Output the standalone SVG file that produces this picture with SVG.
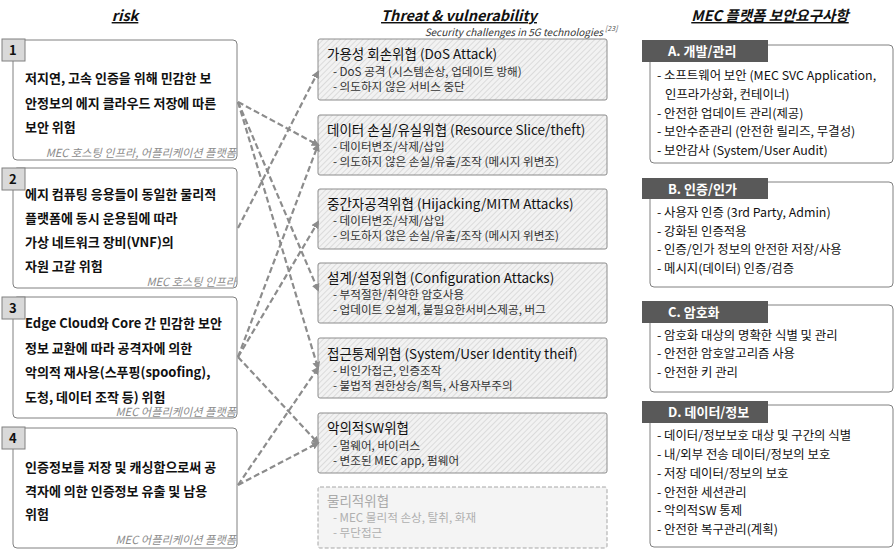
<svg xmlns="http://www.w3.org/2000/svg" width="895" height="553" viewBox="0 0 895 553">
<style>
text{font-family:"Noto Sans CJK KR","Noto Sans",sans-serif}
.hdr{font-size:14.5px;font-weight:bold;font-style:italic;text-decoration:underline;fill:#111}
.sub{font-size:10px;font-style:italic;fill:#333}
.rbox{fill:#fff;stroke:#808080;stroke-width:1}
.num{fill:#d9d9d9;stroke:#808080;stroke-width:1}
.numt{font-size:13px;font-weight:bold;fill:#111}
.rt{font-size:13px;font-weight:bold;fill:#111}
.cap{font-size:11.2px;font-style:italic;fill:#8c8c8c;text-anchor:end}
.tbox{fill:url(#hatch);stroke:#8c8c8c;stroke-width:1}
.tbox2{fill:#f4f4f4;stroke:#a6a6a6;stroke-width:1;stroke-dasharray:4 2}
.tt{font-size:13.5px;fill:#111}
.ti{font-size:11.6px;fill:#333}
.tt2{font-size:13.5px;fill:#aaa}
.ti2{font-size:11.6px;fill:#b0b0b0}
.qbox{fill:#fff;stroke:#808080;stroke-width:1}
.tab{fill:#595959}
.tabt{font-size:13px;font-weight:bold;fill:#fff}
.qi{font-size:12.4px;fill:#111}
.con{fill:none;stroke:#8c8c8c;stroke-width:2.2;stroke-dasharray:6 3;marker-end:url(#ah)}
</style>
<defs>
<pattern id="hatch" width="4" height="4" patternUnits="userSpaceOnUse" patternTransform="rotate(45)">
<rect width="4" height="4" fill="#f2f2f2"/>
<line x1="0" y1="0" x2="0" y2="4" stroke="#c4c4c4" stroke-width="1"/>
</pattern>
<marker id="ah" markerWidth="8" markerHeight="8" refX="6" refY="4" orient="auto" markerUnits="userSpaceOnUse">
<path d="M0,0 L8,4 L0,8 z" fill="#8c8c8c"/>
</marker>
</defs>

<g id="headers">
<text class="hdr" x="125" y="21" text-anchor="middle">risk</text>
<text class="hdr" x="459" y="21" text-anchor="middle">Threat &amp; vulnerability</text>
<text class="sub" x="603" y="36" text-anchor="end">Security challenges in 5G technologies</text>
<text x="605" y="31" style="font-size:7px;font-style:italic;fill:#555">[23]</text>
<text class="hdr" x="770" y="21" text-anchor="middle">MEC 플랫폼 보안요구사항</text>
</g>

<g id="risk1">
<rect class="rbox" x="13" y="40" width="224" height="120" rx="4"/>
<rect class="num" x="2" y="39" width="23" height="22"/>
<text class="numt" x="9" y="55">1</text>
<text class="rt" x="25" y="83">저지연, 고속 인증을 위해 민감한 보</text>
<text class="rt" x="25" y="108">안정보의 에지 클라우드 저장에 따른</text>
<text class="rt" x="25" y="132">보안 위험</text>
<text class="cap" x="236" y="157">MEC 호스팅 인프라, 어플리케이션 플랫폼</text>
</g>
<g id="risk2">
<rect class="rbox" x="13" y="168" width="224" height="120" rx="4"/>
<rect class="num" x="2" y="168" width="23" height="22"/>
<text class="numt" x="9" y="184">2</text>
<text class="rt" x="25" y="199">에지 컴퓨팅 응용들이 동일한 물리적</text>
<text class="rt" x="25" y="223">플랫폼에 동시 운용됨에 따라</text>
<text class="rt" x="25" y="247">가상 네트워크 장비(VNF)의</text>
<text class="rt" x="25" y="271">자원 고갈 위험</text>
<text class="cap" x="236" y="286">MEC 호스팅 인프라</text>
</g>
<g id="risk3">
<rect class="rbox" x="13" y="297" width="224" height="121" rx="4"/>
<rect class="num" x="2" y="297" width="23" height="22"/>
<text class="numt" x="9" y="313">3</text>
<text class="rt" x="25" y="328">Edge Cloud와 Core 간 민감한 보안</text>
<text class="rt" x="25" y="353">정보 교환에 따라 공격자에 의한</text>
<text class="rt" x="25" y="377">악의적 재사용(스푸핑(spoofing),</text>
<text class="rt" x="25" y="402">도청, 데이터 조작 등) 위험</text>
<text class="cap" x="236" y="416">MEC 어플리케이션 플랫폼</text>
</g>
<g id="risk4">
<rect class="rbox" x="13" y="428" width="224" height="120" rx="4"/>
<rect class="num" x="2" y="427" width="23" height="22"/>
<text class="numt" x="9" y="443">4</text>
<text class="rt" x="25" y="472">인증정보를 저장 및 캐싱함으로써 공</text>
<text class="rt" x="25" y="496">격자에 의한 인증정보 유출 및 남용</text>
<text class="rt" x="25" y="519">위험</text>
<text class="cap" x="236" y="544">MEC 어플리케이션 플랫폼</text>
</g>

<g id="threat1">
<rect class="tbox" x="318" y="39" width="289" height="61" rx="2"/>
<text class="tt" x="327" y="59">가용성 회손위협 (DoS Attack)</text>
<text class="ti" x="333" y="76">- DoS 공격 (시스템손상, 업데이트 방해)</text>
<text class="ti" x="333" y="91">- 의도하지 않은 서비스 중단</text>
</g>
<g id="threat2">
<rect class="tbox" x="318" y="115" width="289" height="60" rx="2"/>
<text class="tt" x="327" y="135">데이터 손실/유실위협 (Resource Slice/theft)</text>
<text class="ti" x="333" y="151">- 데이터변조/삭제/삽입</text>
<text class="ti" x="333" y="166">- 의도하지 않은 손실/유출/조작 (메시지 위변조)</text>
</g>
<g id="threat3">
<rect class="tbox" x="318" y="189" width="289" height="60" rx="2"/>
<text class="tt" x="327" y="209">중간자공격위협 (Hijacking/MITM Attacks)</text>
<text class="ti" x="333" y="225">- 데이터변조/삭제/삽입</text>
<text class="ti" x="333" y="240">- 의도하지 않은 손실/유출/조작 (메시지 위변조)</text>
</g>
<g id="threat4">
<rect class="tbox" x="318" y="263" width="289" height="60" rx="2"/>
<text class="tt" x="327" y="283">설계/설정위협 (Configuration Attacks)</text>
<text class="ti" x="333" y="299">- 부적절한/취약한 암호사용</text>
<text class="ti" x="333" y="314">- 업데이트 오설계, 불필요한서비스제공, 버그</text>
</g>
<g id="threat5">
<rect class="tbox" x="318" y="338" width="289" height="60" rx="2"/>
<text class="tt" x="327" y="359">접근통제위협 (System/User Identity theif)</text>
<text class="ti" x="333" y="375">- 비인가접근, 인증조작</text>
<text class="ti" x="333" y="390">- 불법적 권한상승/획득, 사용자부주의</text>
</g>
<g id="threat6">
<rect class="tbox" x="318" y="413" width="289" height="60" rx="2"/>
<text class="tt" x="327" y="433">악의적SW위협</text>
<text class="ti" x="333" y="450">- 멀웨어, 바이러스</text>
<text class="ti" x="333" y="465">- 변조된 MEC app, 펌웨어</text>
</g>
<g id="threat7">
<rect class="tbox2" x="318" y="487" width="289" height="61" rx="2"/>
<text class="tt2" x="327" y="506">물리적위협</text>
<text class="ti2" x="333" y="522">- MEC 물리적 손상, 탈취, 화재</text>
<text class="ti2" x="333" y="537">- 무단접근</text>
</g>

<g id="reqA">
<rect class="qbox" x="650" y="45" width="243" height="118" rx="4"/>
<rect class="tab" x="642" y="40" width="126" height="22"/>
<text class="tabt" x="668" y="56">A. 개발/관리</text>
<text class="qi" x="657" y="80">- 소프트웨어 보안 (MEC SVC Application,</text>
<text class="qi" x="665" y="99">인프라가상화, 컨테이너)</text>
<text class="qi" x="657" y="118">- 안전한 업데이트 관리(제공)</text>
<text class="qi" x="657" y="136">- 보안수준관리 (안전한 릴리즈, 무결성)</text>
<text class="qi" x="657" y="155">- 보안감사 (System/User Audit)</text>
</g>
<g id="reqB">
<rect class="qbox" x="650" y="182" width="243" height="105" rx="4"/>
<rect class="tab" x="642" y="178" width="126" height="21"/>
<text class="tabt" x="668" y="194">B. 인증/인가</text>
<text class="qi" x="657" y="217">- 사용자 인증 (3rd Party, Admin)</text>
<text class="qi" x="657" y="236">- 강화된 인증적용</text>
<text class="qi" x="657" y="254">- 인증/인가 정보의 안전한 저장/사용</text>
<text class="qi" x="657" y="273">- 메시지(데이터) 인증/검증</text>
</g>
<g id="reqC">
<rect class="qbox" x="650" y="305" width="243" height="87" rx="4"/>
<rect class="tab" x="642" y="301" width="126" height="22"/>
<text class="tabt" x="668" y="317">C. 암호화</text>
<text class="qi" x="657" y="340">- 암호화 대상의 명확한 식별 및 관리</text>
<text class="qi" x="657" y="358">- 안전한 암호알고리즘 사용</text>
<text class="qi" x="657" y="377">- 안전한 키 관리</text>
</g>
<g id="reqD">
<rect class="qbox" x="650" y="405" width="243" height="142" rx="4"/>
<rect class="tab" x="642" y="401" width="126" height="22"/>
<text class="tabt" x="668" y="417">D. 데이터/정보</text>
<text class="qi" x="657" y="440">- 데이터/정보보호 대상 및 구간의 식별</text>
<text class="qi" x="657" y="459">- 내/외부 전송 데이터/정보의 보호</text>
<text class="qi" x="657" y="478">- 저장 데이터/정보의 보호</text>
<text class="qi" x="657" y="497">- 안전한 세션관리</text>
<text class="qi" x="657" y="515">- 악의적SW 통제</text>
<text class="qi" x="657" y="534">- 안전한 복구관리(계획)</text>
</g>

<g id="connectors">
<path class="con" d="M238,102 L318,145"/>
<path class="con" d="M238,102 L318,290"/>
<path class="con" d="M238,102 L318,368"/>
<path class="con" d="M238,228 L318,72"/>
<path class="con" d="M238,357 L318,222"/>
<path class="con" d="M238,357 L318,145"/>
<path class="con" d="M238,357 L318,443"/>
<path class="con" d="M238,485 L318,368"/>
<path class="con" d="M238,485 L318,443"/>
</g>
</svg>
